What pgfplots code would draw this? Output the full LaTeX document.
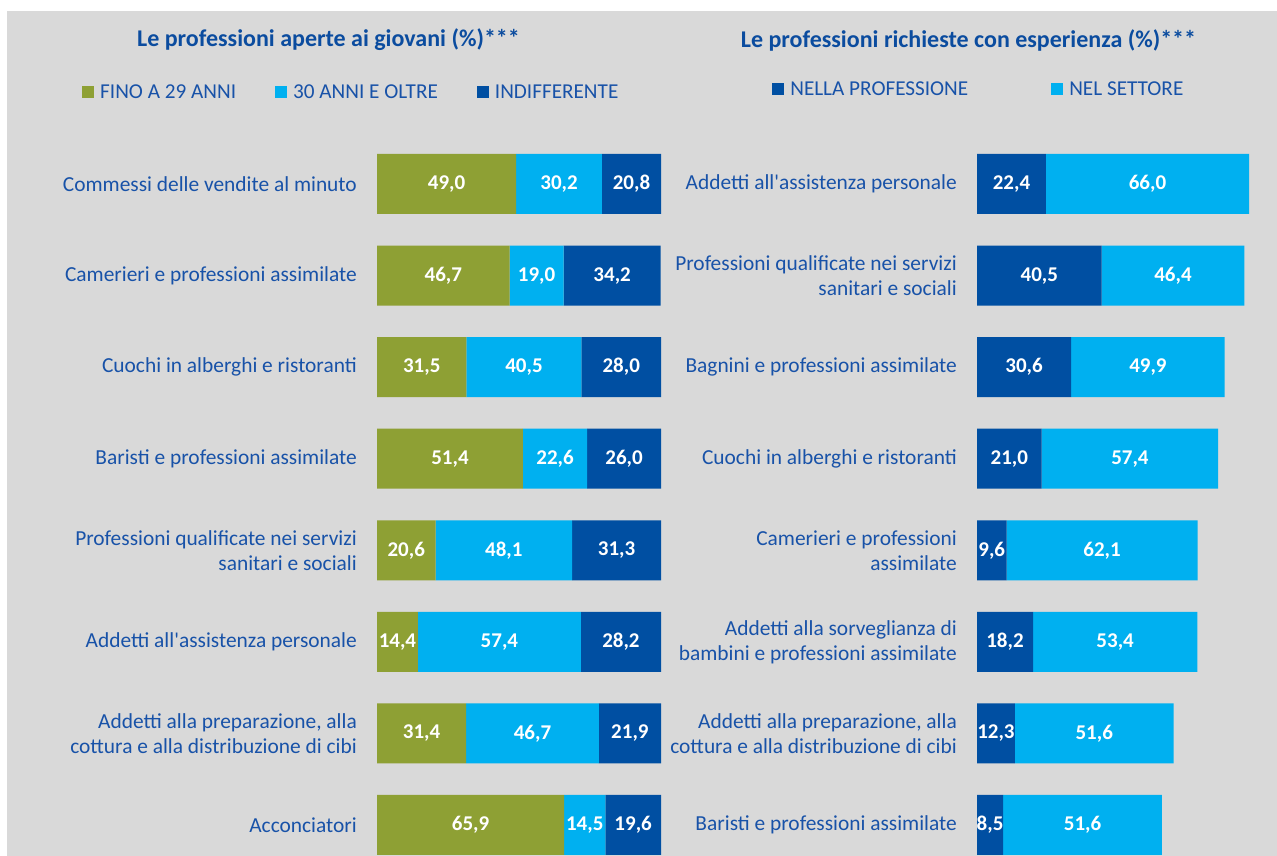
\documentclass[border=0pt]{standalone}
\usepackage{pgfplots}
\pgfplotsset{compat=1.18}
\usepackage{pgfplotstable}
\usepackage{fontspec}
\setmainfont{Carlito}
\definecolor{bg}{HTML}{D9D9D9}
\definecolor{cgreen}{HTML}{8EA034}
\definecolor{clight}{HTML}{00B0F0}
\definecolor{cdark}{HTML}{004FA2}
\definecolor{ctext}{HTML}{1852A8}
\definecolor{ctitle}{HTML}{0B4C9F}

\pgfplotstableread{
y a b c
0 49.0 30.2 20.8
1 46.7 19.0 34.2
2 31.5 40.5 28.0
3 51.4 22.6 26.0
4 20.6 48.1 31.3
5 14.4 57.4 28.2
6 31.4 46.7 21.9
7 65.9 14.5 19.6
}\lefttab

\pgfplotstableread{
y a b
0 22.4 66.0
1 40.5 46.4
2 30.6 49.9
3 21.0 57.4
4 9.6 62.1
5 18.2 53.4
6 12.3 51.6
7 8.5 51.6
}\righttab

\pgfplotsset{
  barpanel/.style={
    scale only axis, xbar stacked, bar width=60pt,
    y dir=reverse, ymin=-0.5, ymax=7.34, height=717.9pt,
    xmin=0, axis line style={draw=none}, major tick style={draw=none},
    xtick=\empty, ytick={0,...,7},
    yticklabel style={align=right, font=\fontsize{21.4}{25}\selectfont, text=ctext, inner sep=0pt, xshift=-20pt},
    point meta=explicit,
    /pgf/number format/assume math mode=true,
    nodes near coords={\pgfmathprintnumber[fixed,fixed zerofill,precision=1,use comma,assume math mode=true]{\pgfplotspointmeta}},
    nodes near coords style={anchor=center, font=\bfseries\fontsize{21}{24}\selectfont, text=white},
    legend image code/.code={\fill[##1] (0pt,-6pt) rectangle (12pt,6pt);},
    legend columns=-1,
  }
}

\begin{document}
\begin{tikzpicture}
\useasboundingbox (0,0) rectangle (1277pt,-856pt);
\fill[white] (0,0) rectangle (1277pt,-856pt);
\fill[bg] (7pt,-11pt) rectangle (1277pt,-856pt);

\node[text=ctitle, font=\bfseries\fontsize{24}{28}\selectfont] at (328.5pt,-40pt) {Le professioni aperte ai giovani (\%)***};
\node[text=ctitle, font=\bfseries\fontsize{24}{28}\selectfont] at (968.5pt,-40pt) {Le professioni richieste con esperienza (\%)***};

\begin{axis}[barpanel,
  at={(377pt,-138.2pt)}, anchor=north west,
  width=284pt, xmax=100,
  yticklabels={{Commessi delle vendite al minuto},{Camerieri e professioni assimilate},{Cuochi in alberghi e ristoranti},{Baristi e professioni assimilate},{Professioni qualificate nei servizi\\sanitari e sociali},{Addetti all\textquotesingle assistenza personale},{Addetti alla preparazione, alla\\cottura e alla distribuzione di cibi},{Acconciatori}},
  legend style={at={(-1.0387,1.064)}, anchor=west, draw=none, fill=none, inner sep=0pt,
    font=\fontsize{21.2}{24}\selectfont, text=ctext, nodes={inner sep=0pt},
    /tikz/every odd column/.append style={column sep=6pt},
    /tikz/every even column/.append style={column sep=39pt}},
]
\addplot[fill=cgreen, draw=none] table[x=a, y=y, meta=a] {\lefttab};
\addplot[fill=clight, draw=none] table[x=b, y=y, meta=b] {\lefttab};
\addplot[fill=cdark, draw=none] table[x=c, y=y, meta=c] {\lefttab};
\legend{FINO A 29 ANNI, 30 ANNI E OLTRE, INDIFFERENTE}
\end{axis}

\begin{axis}[barpanel,
  at={(977pt,-138.2pt)}, anchor=north west,
  width=300pt, xmax=97.5,
  yticklabels={{Addetti all\textquotesingle assistenza personale},{Professioni qualificate nei servizi\\sanitari e sociali},{Bagnini e professioni assimilate},{Cuochi in alberghi e ristoranti},{Camerieri e professioni\\assimilate},{Addetti alla sorveglianza di\\bambini e professioni assimilate},{Addetti alla preparazione, alla\\cottura e alla distribuzione di cibi},{Baristi e professioni assimilate}},
  legend style={at={(-0.683,1.068)}, anchor=west, draw=none, fill=none, inner sep=0pt,
    font=\fontsize{21.2}{24}\selectfont, text=ctext, nodes={inner sep=0pt},
    /tikz/every odd column/.append style={column sep=6pt},
    /tikz/every even column/.append style={column sep=83pt}},
]
\addplot[fill=cdark, draw=none] table[x=a, y=y, meta=a] {\righttab};
\addplot[fill=clight, draw=none] table[x=b, y=y, meta=b] {\righttab};
\legend{NELLA PROFESSIONE, NEL SETTORE}
\end{axis}
\end{tikzpicture}
\end{document}
